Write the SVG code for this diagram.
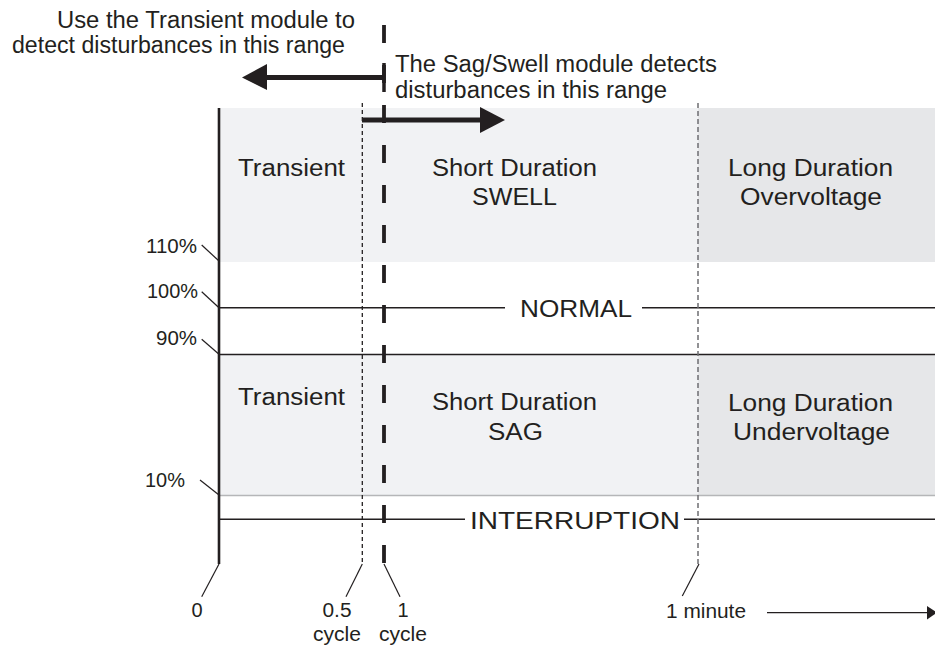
<svg xmlns="http://www.w3.org/2000/svg" width="935" height="647" viewBox="0 0 935 647">
<style>
text{font-family:"Liberation Sans",Arial,sans-serif;fill:#231f20}
.big{font-size:23px}
.sm{font-size:20px}
.ln{stroke:#231f20;stroke-width:1.6;fill:none}
.ld{stroke:#231f20;stroke-width:1.2;fill:none}
.thin{stroke:#231f20;stroke-width:1.3;stroke-dasharray:4 3;fill:none}
.thing{stroke:#6d6e71;stroke-width:1.5;stroke-dasharray:5 3;fill:none}
.thick{stroke:#231f20;stroke-width:3.5;fill:none}
</style>
<rect width="935" height="647" fill="#ffffff"/>
<g id="bands">
<rect x="219" y="108" width="479" height="154" fill="#f1f2f4"/>
<rect x="698" y="108" width="237" height="154" fill="#e6e7e9"/>
<rect x="219" y="355" width="479" height="140" fill="#f1f2f4"/>
<rect x="698" y="355" width="237" height="140" fill="#e6e7e9"/>
</g>
<g id="connectors">
<line class="ln" x1="219" y1="307.7" x2="505" y2="307.7"/>
<line class="ln" x1="642" y1="307.7" x2="935" y2="307.7"/>
<line class="ln" x1="219" y1="354.5" x2="935" y2="354.5"/>
<line x1="219" y1="495.5" x2="935" y2="495.5" stroke="#b5b6b8" stroke-width="1.5"/>
<line class="ln" x1="219" y1="519.3" x2="465" y2="519.3"/>
<line class="ln" x1="684" y1="519.3" x2="935" y2="519.3"/>
<line class="thin" x1="362.3" y1="103" x2="362.3" y2="564"/>
<line class="thing" x1="698" y1="103" x2="698" y2="564"/>
<line x1="384" y1="25" x2="384" y2="564" stroke="#231f20" stroke-width="3.8" stroke-dasharray="18 22"/>
<line x1="219" y1="108" x2="219" y2="564" stroke="#231f20" stroke-width="2.6"/>
<line x1="384" y1="77.5" x2="262" y2="77.5" stroke="#231f20" stroke-width="5"/>
<polygon points="242,77.5 267,64 267,90" fill="#231f20"/>
<line class="thick" x1="384" y1="63" x2="384" y2="92"/>
<line x1="362" y1="120" x2="484" y2="120" stroke="#231f20" stroke-width="5"/>
<polygon points="505,120 480,107 480,133" fill="#231f20"/>
<line class="ld" x1="201.7" y1="245" x2="219" y2="261"/>
<line class="ld" x1="201.7" y1="291.7" x2="219" y2="307.7"/>
<line class="ld" x1="201.7" y1="339.3" x2="219" y2="354.3"/>
<line class="ld" x1="200" y1="480" x2="219" y2="495"/>
<line class="ld" x1="219" y1="564" x2="201.7" y2="596.7"/>
<line class="ld" x1="362.3" y1="564" x2="346" y2="596.7"/>
<line class="ld" x1="384" y1="564" x2="400" y2="596.7"/>
<line class="ld" x1="699" y1="564" x2="682.3" y2="596"/>
<line class="ld" x1="767" y1="612.7" x2="928" y2="612.7"/>
<polygon points="927,606 937,612.7 927,619.4" fill="#231f20"/>
</g>
<g id="label-transient-module">
<text class="big" x="57" y="28" textLength="298" lengthAdjust="spacingAndGlyphs">Use the Transient module to</text>
<text class="big" x="12" y="53" textLength="333" lengthAdjust="spacingAndGlyphs">detect disturbances in this range</text>
</g>
<g id="label-sagswell-module">
<text class="big" x="395" y="72" textLength="322" lengthAdjust="spacingAndGlyphs">The Sag/Swell module detects</text>
<text class="big" x="395" y="98" textLength="272" lengthAdjust="spacingAndGlyphs">disturbances in this range</text>
</g>
<g id="node-transient-swell"><text class="big" x="238" y="176" textLength="107" lengthAdjust="spacingAndGlyphs">Transient</text></g>
<g id="node-short-swell">
<text class="big" x="432" y="176" textLength="165" lengthAdjust="spacingAndGlyphs">Short Duration</text>
<text class="big" x="472" y="205" textLength="85" lengthAdjust="spacingAndGlyphs">SWELL</text>
</g>
<g id="node-long-over">
<text class="big" x="728" y="176" textLength="165" lengthAdjust="spacingAndGlyphs">Long Duration</text>
<text class="big" x="740" y="205" textLength="142" lengthAdjust="spacingAndGlyphs">Overvoltage</text>
</g>
<g id="node-normal"><text class="big" x="520" y="317" textLength="112" lengthAdjust="spacingAndGlyphs">NORMAL</text></g>
<g id="node-transient-sag"><text class="big" x="238" y="405" textLength="107" lengthAdjust="spacingAndGlyphs">Transient</text></g>
<g id="node-short-sag">
<text class="big" x="432" y="410" textLength="165" lengthAdjust="spacingAndGlyphs">Short Duration</text>
<text class="big" x="488" y="440" textLength="55" lengthAdjust="spacingAndGlyphs">SAG</text>
</g>
<g id="node-long-under">
<text class="big" x="728" y="411" textLength="165" lengthAdjust="spacingAndGlyphs">Long Duration</text>
<text class="big" x="733" y="440" textLength="157" lengthAdjust="spacingAndGlyphs">Undervoltage</text>
</g>
<g id="node-interruption"><text class="big" x="470" y="529" textLength="210" lengthAdjust="spacingAndGlyphs">INTERRUPTION</text></g>
<g id="axis-labels">
<text class="sm" x="146" y="253" textLength="51" lengthAdjust="spacingAndGlyphs">110%</text>
<text class="sm" x="147" y="298" textLength="51" lengthAdjust="spacingAndGlyphs">100%</text>
<text class="sm" x="156" y="345" textLength="41" lengthAdjust="spacingAndGlyphs">90%</text>
<text class="sm" x="145" y="487" textLength="40" lengthAdjust="spacingAndGlyphs">10%</text>
<text class="sm" x="197" y="617" text-anchor="middle">0</text>
<text class="sm" x="337" y="617" text-anchor="middle" textLength="29" lengthAdjust="spacingAndGlyphs">0.5</text>
<text class="sm" x="337" y="641" text-anchor="middle" textLength="48" lengthAdjust="spacingAndGlyphs">cycle</text>
<text class="sm" x="403" y="617" text-anchor="middle">1</text>
<text class="sm" x="403" y="641" text-anchor="middle" textLength="48" lengthAdjust="spacingAndGlyphs">cycle</text>
<text class="sm" x="666" y="618" textLength="80" lengthAdjust="spacingAndGlyphs">1 minute</text>
</g>
</svg>
